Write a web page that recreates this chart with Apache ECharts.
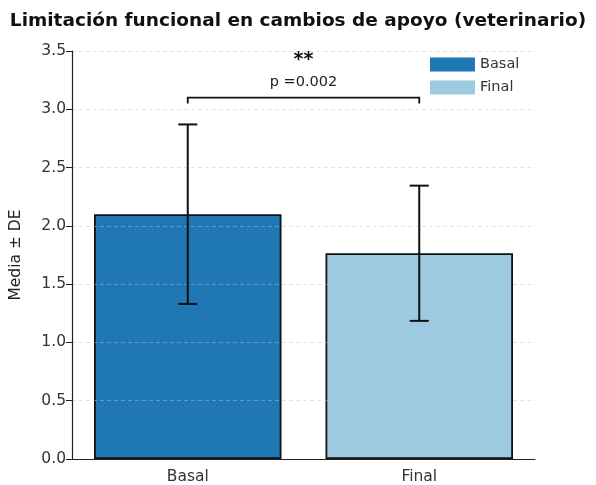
<!DOCTYPE html>
<html>
<head>
<meta charset="utf-8">
<script src="https://cdn.jsdelivr.net/npm/echarts@6/dist/echarts.min.js"></script>
<style>
  html, body { margin: 0; padding: 0; background: #fff; }
  #chart { width: 596px; height: 485px; }
</style>
</head>
<body>
<div id="chart"></div>
<script>
const categories = ['Basal', 'Final'];
const means = [2.10, 1.765];
const sds = [0.77, 0.58];
const colors = ['#1f77b4', '#9ecae1'];
const pText = 'p =0.002';
const stars = '**';
const bracketY = 3.1;

const font = 'DejaVu Sans';

const errData = categories.map((c, i) => [i, means[i] - sds[i], means[i] + sds[i]]);

const barSeries = categories.map((c, i) => ({
  name: c,
  type: 'bar',
  data: categories.map((_, j) => (j === i ? means[i] : '-')),
  barWidth: '81%',
  barGap: '-100%',
  itemStyle: { color: colors[i], borderColor: '#111', borderWidth: 1.8 },
  z: 2
}));

const chart = echarts.init(document.getElementById('chart'));

chart.setOption({
  animation: false,
  title: {
    text: 'Limitación funcional en cambios de apoyo (veterinario)',
    left: 'center',
    top: 7,
    textStyle: { fontFamily: font, fontWeight: 'bold', fontSize: 18.5, color: '#111' }
  },
  legend: {
    orient: 'vertical',
    left: 430,
    top: 57,
    padding: 0,
    itemWidth: 45,
    itemHeight: 14,
    itemGap: 8,
    icon: 'rect',
    data: categories,
    itemStyle: { borderWidth: 0 },
    textStyle: { fontFamily: font, fontSize: 14.5, color: '#333' }
  },
  grid: { left: 72, right: 61, top: 51, bottom: 26 },
  xAxis: {
    type: 'category',
    data: categories,
    z: 4,
    axisLine: { lineStyle: { color: '#222', width: 1.2 } },
    axisTick: { alignWithLabel: true, length: 6, lineStyle: { color: '#222' } },
    axisLabel: { fontFamily: font, fontSize: 15.5, color: '#333', margin: 10 }
  },
  yAxis: {
    type: 'value',
    min: 0,
    max: 3.5,
    interval: 0.5,
    z: 3,
    name: 'Media ± DE',
    nameLocation: 'middle',
    nameGap: 48,
    nameTextStyle: { fontFamily: font, fontSize: 15.5, color: '#222' },
    axisLine: { show: true, lineStyle: { color: '#222', width: 1.2 } },
    axisTick: { show: true, length: 6, lineStyle: { color: '#222' } },
    axisLabel: { fontFamily: font, fontSize: 15.5, color: '#333', margin: 6, formatter: v => v.toFixed(1) },
    splitLine: { show: true, lineStyle: { color: 'rgba(190,190,190,0.45)', type: [4, 3] } }
  },
  series: [
    ...barSeries,
    {
      type: 'custom',
      z: 5,
      data: errData,
      renderItem: (params, api) => {
        const x = api.value(0);
        const lo = api.coord([x, api.value(1)]);
        const hi = api.coord([x, api.value(2)]);
        const cap = 9.5;
        const style = { stroke: '#111', lineWidth: 2 };
        return {
          type: 'group',
          children: [
            { type: 'line', shape: { x1: lo[0], y1: lo[1], x2: hi[0], y2: hi[1] }, style },
            { type: 'line', shape: { x1: lo[0] - cap, y1: lo[1], x2: lo[0] + cap, y2: lo[1] }, style },
            { type: 'line', shape: { x1: hi[0] - cap, y1: hi[1], x2: hi[0] + cap, y2: hi[1] }, style }
          ]
        };
      }
    },
    {
      type: 'custom',
      z: 5,
      data: [[0, 1, bracketY]],
      renderItem: (params, api) => {
        const y = api.value(2);
        const a = api.coord([api.value(0), y]);
        const b = api.coord([api.value(1), y]);
        const aLow = api.coord([api.value(0), y - 0.05]);
        const mid = (a[0] + b[0]) / 2;
        const textY = api.coord([0, y + 0.13]);
        const starY = api.coord([0, y + 0.32]);
        return {
          type: 'group',
          children: [
            {
              type: 'polyline',
              shape: { points: [[a[0], aLow[1]], a, b, [b[0], aLow[1]]] },
              style: { stroke: '#111', lineWidth: 1.8, fill: null }
            },
            {
              type: 'text',
              x: mid, y: textY[1],
              style: { text: pText, fontFamily: font, fontSize: 14.5, fill: '#222', align: 'center', verticalAlign: 'middle' }
            },
            {
              type: 'text',
              x: mid, y: starY[1],
              style: { text: stars, fontFamily: font, fontSize: 19, fontWeight: 'bold', fill: '#111', align: 'center', verticalAlign: 'middle' }
            }
          ]
        };
      }
    }
  ]
});
</script>
</body>
</html>
